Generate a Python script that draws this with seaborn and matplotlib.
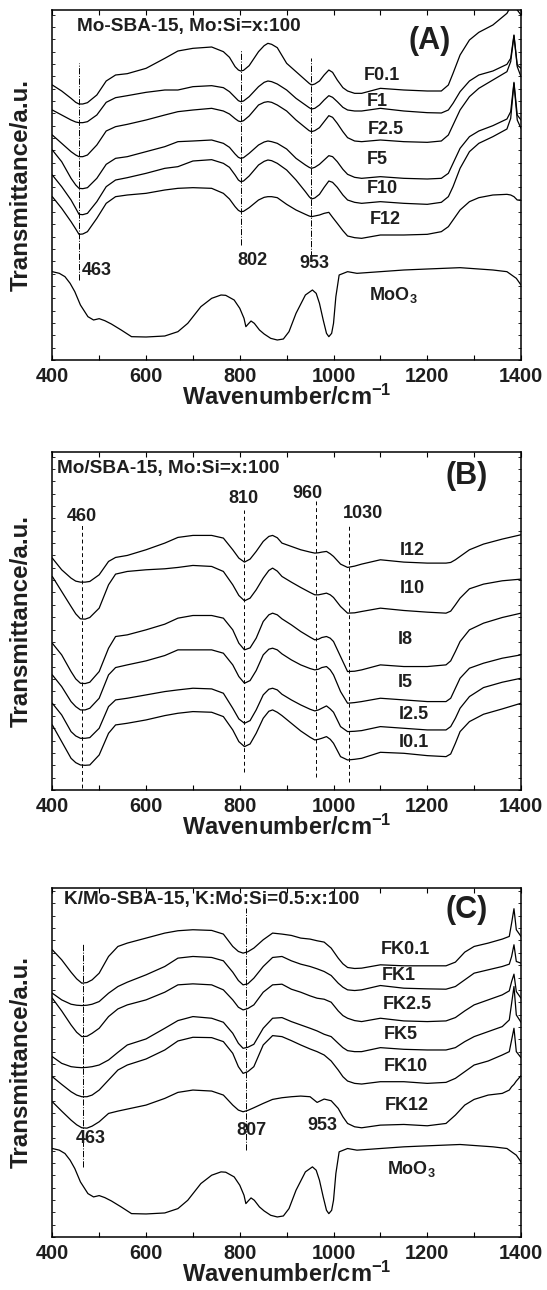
import matplotlib
matplotlib.use("Agg")
import matplotlib.pyplot as plt
from matplotlib.ticker import MultipleLocator
import seaborn as sns

# ---------------- data ----------------
# Panel A : Mo-SBA-15
WN_A = [400, 420, 440, 450, 457, 465, 475, 495, 515, 535,
        560, 600, 640, 668, 700, 740, 765, 778, 790, 797,
        802, 808, 820, 840, 852, 860, 868, 880, 900, 920,
        940, 948, 953, 960, 970, 980, 990, 998, 1008, 1020,
        1030, 1045, 1060, 1100, 1150, 1200, 1230, 1245, 1255, 1270,
        1290, 1310, 1340, 1370, 1378, 1385, 1392, 1400]
A_F01 = [82.5, 80.7, 78.5, 77.3, 76.8, 76.8, 77.2, 79.5, 83.7, 85.5,
         85.9, 87.5, 90.5, 92.7, 93.5, 93.9, 92.5, 90.8, 88.0, 87.0,
         86.7, 86.9, 88.3, 92.5, 94.3, 95.0, 94.7, 93.7, 89.0, 86.5,
         84.0, 83.0, 82.5, 82.8, 83.7, 85.5, 87.0, 86.3, 84.0, 81.7,
         80.7, 80.0, 80.0, 81.5, 81.0, 80.7, 80.7, 82.5, 86.0, 91.5,
         96.0, 98.3, 100.5, 104.0, 106.0, 111.5, 105.0, 103.5]
A_F1 = [75.0, 73.5, 72.0, 71.4, 71.2, 71.2, 71.5, 73.5, 77.3, 78.7,
        79.3, 80.3, 81.0, 81.0, 82.0, 82.3, 81.7, 80.5, 78.8, 77.8,
        77.5, 77.7, 79.0, 82.0, 83.3, 83.7, 83.5, 82.8, 81.0, 78.5,
        76.5, 75.7, 75.3, 75.5, 76.5, 78.0, 79.3, 78.8, 77.5, 75.8,
        75.0, 74.7, 74.7, 75.5, 74.7, 74.2, 74.1, 75.0, 77.0, 80.5,
        83.7, 85.5, 86.7, 88.7, 90.5, 97.5, 88.5, 87.5]
A_F25 = [67.5, 65.0, 62.5, 61.5, 61.0, 61.0, 61.5, 64.5, 68.7, 70.0,
         70.7, 72.0, 73.5, 74.5, 75.0, 75.5, 74.7, 73.8, 72.4, 71.7,
         71.5, 71.8, 73.2, 76.5, 77.3, 77.5, 77.3, 76.5, 74.7, 72.0,
         69.7, 68.8, 68.5, 68.8, 69.7, 71.5, 73.3, 72.8, 71.0, 68.5,
         66.7, 65.7, 65.5, 66.0, 65.5, 65.3, 65.7, 67.5, 70.5, 75.0,
         79.0, 81.5, 84.0, 86.5, 89.5, 97.3, 88.0, 85.0]
A_F5 = [63.0, 59.5, 54.5, 52.5, 51.5, 51.4, 51.7, 54.5, 58.7, 60.5,
        61.0, 62.5, 64.0, 65.5, 65.7, 66.0, 65.0, 63.8, 61.8, 60.8,
        60.5, 60.7, 62.0, 64.5, 65.4, 65.7, 65.5, 65.0, 63.3, 60.5,
        58.5, 57.8, 57.5, 57.8, 58.7, 60.0, 61.3, 61.0, 59.5, 57.2,
        55.7, 54.8, 54.5, 55.0, 54.5, 54.3, 54.5, 56.0, 59.0, 63.5,
        67.0, 68.7, 70.3, 72.3, 74.5, 83.3, 73.5, 72.0]
A_F10 = [55.5, 52.0, 48.0, 45.5, 43.7, 43.6, 44.0, 47.5, 52.0, 54.0,
         54.7, 56.0, 57.5, 58.0, 59.7, 60.1, 59.0, 57.8, 55.5, 54.0,
         53.5, 53.7, 55.2, 58.5, 59.6, 60.0, 59.8, 59.0, 57.0, 54.0,
         50.5, 49.0, 48.3, 48.6, 49.7, 51.8, 53.7, 53.3, 51.8, 49.5,
         48.0, 47.3, 47.0, 47.5, 47.0, 46.7, 47.3, 49.0, 52.0, 57.5,
         62.5, 65.0, 67.0, 69.3, 72.5, 83.0, 72.0, 69.5]
A_F12 = [49.0, 45.5, 41.5, 39.3, 37.7, 37.8, 38.5, 42.5, 47.0, 49.0,
         49.5, 50.0, 51.0, 51.5, 51.7, 51.5, 50.0, 48.3, 46.0, 44.9,
         44.5, 44.6, 45.7, 48.0, 48.8, 49.0, 49.0, 48.7, 46.7, 45.0,
         43.7, 43.2, 43.0, 43.2, 43.5, 44.0, 44.3, 42.8, 41.0, 38.8,
         37.2, 36.7, 36.5, 37.5, 37.5, 37.7, 38.5, 40.0, 42.0, 45.0,
         47.5, 48.7, 49.5, 49.7, 49.5, 49.0, 48.0, 48.0]

# MoO3 reference spectrum (panels A and C)
WN_MOO3 = [400, 415, 427, 438, 448, 460, 476, 488, 500, 512,
           526, 547, 569, 600, 640, 668, 689, 717, 740, 760,
           770, 788, 800, 809, 813, 818, 824, 831, 842, 852,
           866, 880, 893, 905, 920, 940, 955, 963, 970, 978,
           985, 990, 996, 1000, 1005, 1012, 1030, 1050, 1100, 1150,
           1200, 1270, 1340, 1370, 1390, 1400]
T_MOO3 = [26.5, 26.0, 25.0, 23.0, 20.5, 16.5, 13.0, 12.0, 12.4, 11.8,
          10.8, 9.0, 7.0, 6.9, 7.2, 8.5, 11.0, 16.0, 18.5, 19.5,
          19.4, 18.0, 15.5, 12.5, 10.0, 10.8, 11.7, 11.0, 9.0, 7.8,
          6.5, 6.0, 6.3, 8.5, 14.0, 19.5, 21.0, 20.0, 17.0, 12.0,
          8.0, 7.0, 8.0, 11.0, 19.0, 25.5, 26.5, 26.0, 26.5, 27.0,
          27.3, 27.7, 27.0, 26.5, 24.5, 22.5]

# Panel B : Mo/SBA-15
WN_B = [400, 420, 440, 450, 460, 470, 480, 500, 520, 535,
        560, 600, 640, 668, 700, 740, 765, 785, 798, 810,
        822, 835, 850, 862, 870, 880, 890, 910, 930, 950,
        960, 968, 975, 985, 993, 1000, 1015, 1030, 1045, 1060,
        1100, 1150, 1200, 1240, 1250, 1260, 1270, 1290, 1320, 1360,
        1400]
B_I12 = [69.5, 66.0, 63.5, 62.6, 62.3, 62.3, 62.5, 64.5, 68.5, 69.7,
         70.3, 72.0, 74.0, 75.7, 76.3, 76.3, 75.5, 72.0, 69.5, 68.3,
         69.2, 71.5, 74.5, 76.0, 76.3, 75.6, 74.0, 73.0, 72.0, 71.3,
         71.0, 71.1, 71.3, 71.5, 70.8, 70.0, 67.7, 66.7, 67.1, 67.7,
         69.0, 68.3, 68.0, 68.0, 68.2, 69.0, 70.0, 72.0, 73.7, 75.2,
         76.5]
B_I10 = [64.0, 59.5, 55.0, 52.8, 51.3, 51.2, 51.7, 54.5, 61.5, 64.7,
         65.5, 66.0, 66.3, 66.7, 67.3, 67.0, 65.5, 61.5, 58.3, 56.7,
         57.5, 60.0, 63.5, 65.8, 66.5, 65.6, 64.0, 62.3, 60.7, 59.2,
         58.5, 58.5, 58.7, 59.0, 58.5, 57.7, 55.0, 53.0, 53.1, 53.5,
         54.5, 53.8, 53.3, 53.0, 53.6, 55.5, 57.5, 60.3, 61.7, 62.7,
         63.2]
B_I8 = [44.0, 40.5, 35.5, 33.3, 32.0, 31.9, 32.3, 35.5, 42.5, 46.0,
        46.5, 48.0, 49.7, 51.5, 52.3, 52.3, 51.5, 48.0, 44.0, 42.0,
        42.6, 45.5, 50.5, 52.5, 53.0, 52.5, 51.3, 49.5, 47.5, 45.8,
        45.0, 45.2, 45.7, 46.0, 45.5, 44.5, 40.0, 35.5, 35.6, 36.0,
        37.5, 37.0, 37.0, 37.5, 38.7, 41.5, 44.5, 48.0, 50.0, 51.7,
        53.0]
B_I5 = [34.5, 31.0, 26.5, 25.0, 24.0, 24.0, 24.5, 27.5, 34.5, 36.7,
        37.5, 38.7, 40.3, 42.0, 42.0, 42.0, 41.0, 37.5, 34.0, 32.0,
        32.8, 35.8, 40.5, 42.2, 42.5, 42.0, 40.8, 39.0, 37.5, 36.4,
        36.0, 36.2, 36.7, 37.0, 36.0, 34.5, 29.5, 26.0, 26.2, 26.5,
        27.5, 27.0, 26.5, 26.5, 27.5, 30.5, 33.5, 36.5, 38.0, 39.5,
        40.5]
B_I25 = [26.0, 22.5, 17.5, 16.2, 15.5, 15.5, 15.7, 18.5, 25.0, 27.0,
         27.5, 28.5, 29.5, 30.0, 30.5, 30.3, 29.0, 24.5, 21.3, 20.0,
         20.8, 24.0, 28.5, 30.2, 30.5, 30.0, 28.7, 27.0, 25.5, 24.2,
         23.7, 24.0, 24.5, 25.2, 24.3, 23.3, 19.0, 17.5, 17.6, 17.8,
         19.0, 18.5, 18.0, 18.0, 19.0, 21.5, 24.5, 28.0, 30.7, 32.3,
         33.5]
B_I01 = [19.5, 14.5, 9.5, 8.2, 7.5, 7.4, 7.5, 10.5, 17.0, 19.5,
         20.0, 21.0, 22.3, 23.0, 23.5, 23.3, 22.0, 18.0, 14.5, 13.0,
         13.8, 17.0, 21.5, 23.6, 24.0, 23.3, 22.3, 20.0, 17.7, 15.8,
         15.0, 15.2, 15.5, 16.0, 15.2, 14.0, 10.0, 9.0, 9.2, 9.5,
         11.3, 11.0, 10.3, 10.0, 10.8, 14.0, 17.5, 20.5, 22.7, 24.3,
         26.0]

# Panel C : K/Mo-SBA-15
WN_C = [400, 420, 440, 452, 463, 474, 485, 500, 520, 540,
        560, 600, 640, 668, 700, 740, 765, 785, 797, 807,
        817, 830, 850, 870, 890, 910, 930, 950, 965, 980,
        995, 1010, 1020, 1030, 1045, 1060, 1100, 1150, 1200, 1240,
        1260, 1280, 1300, 1330, 1360, 1375, 1380, 1385, 1390, 1400]
C_FK01 = [86.0, 83.0, 79.3, 77.3, 76.0, 76.2, 77.0, 79.0, 84.0, 87.0,
          88.0, 89.5, 91.0, 91.7, 92.0, 91.8, 90.7, 87.0, 85.5, 85.0,
          85.4, 86.5, 89.0, 91.0, 90.7, 90.3, 89.5, 89.2, 88.7, 88.3,
          86.5, 83.5, 81.8, 80.7, 80.4, 80.5, 81.5, 81.2, 81.2, 81.2,
          82.3, 85.3, 87.0, 88.0, 89.2, 90.0, 94.0, 98.3, 92.0, 90.0]
C_FK1 = [73.0, 71.0, 69.7, 69.4, 69.3, 69.4, 69.7, 70.5, 73.0, 75.0,
         76.3, 78.5, 81.0, 83.5, 84.0, 83.7, 82.7, 79.3, 76.8, 75.5,
         75.8, 77.5, 81.0, 83.7, 84.0, 82.7, 81.7, 81.0, 80.3, 79.5,
         78.3, 76.0, 74.8, 74.0, 73.8, 74.0, 75.3, 74.5, 74.3, 74.2,
         75.0, 77.0, 79.0, 80.0, 81.0, 81.7, 84.0, 87.5, 82.5, 82.0]
C_FK25 = [71.5, 67.7, 63.5, 61.3, 60.0, 60.1, 61.0, 62.5, 66.0, 68.3,
          69.5, 71.0, 73.3, 75.5, 75.8, 75.5, 74.0, 71.0, 68.8, 68.0,
          68.4, 69.5, 73.3, 75.5, 75.7, 74.2, 73.3, 72.2, 71.5, 71.2,
          70.3, 67.7, 66.3, 65.5, 64.8, 64.5, 65.5, 64.7, 64.5, 64.7,
          65.7, 67.7, 69.5, 71.0, 72.5, 73.7, 76.5, 78.7, 73.5, 71.5]
C_FK5 = [54.0, 52.0, 51.0, 50.8, 50.7, 50.8, 51.0, 51.5, 53.0, 55.3,
         57.5, 59.3, 62.5, 64.8, 66.0, 65.5, 64.3, 61.0, 58.0, 56.5,
         56.8, 57.7, 62.5, 65.5, 65.7, 64.5, 63.5, 62.5, 61.7, 60.7,
         60.0, 58.0, 56.7, 55.8, 55.5, 55.5, 56.7, 56.2, 56.0, 56.0,
         56.7, 58.5, 60.0, 61.5, 63.0, 65.0, 70.0, 75.0, 66.5, 64.3]
C_FK10 = [48.0, 45.7, 43.5, 42.5, 42.0, 42.0, 42.5, 44.0, 47.0, 50.0,
          51.5, 53.3, 56.0, 58.7, 59.8, 59.7, 58.5, 55.0, 51.0, 49.0,
          49.5, 51.0, 57.5, 60.3, 60.0, 58.8, 57.5, 56.3, 55.5, 54.5,
          52.7, 50.0, 48.0, 46.7, 46.0, 45.8, 46.5, 46.5, 46.0, 46.3,
          47.5, 49.5, 51.5, 52.7, 54.5, 55.5, 59.0, 62.5, 55.5, 53.7]
C_FK12 = [40.5, 37.7, 35.0, 33.6, 32.7, 32.6, 33.2, 34.5, 37.0, 37.7,
          38.3, 39.5, 41.5, 43.3, 44.0, 43.7, 42.5, 39.5, 38.0, 37.5,
          37.9, 38.7, 40.0, 41.2, 41.7, 42.0, 42.2, 42.0, 40.3, 41.3,
          40.8, 38.5, 36.0, 34.0, 33.0, 32.7, 33.5, 33.7, 33.3, 34.0,
          36.5, 39.5, 41.2, 42.5, 43.0, 44.0, 45.0, 45.7, 46.7, 48.3]

# labels
A_NAMES = ["F0.1", "F1", "F2.5", "F5", "F10", "F12", "MoO$_\\mathbf{3}$"]
B_NAMES = ["I12", "I10", "I8", "I5", "I2.5", "I0.1"]
C_NAMES = ["FK0.1", "FK1", "FK2.5", "FK5", "FK10", "FK12", "MoO$_\\mathbf{3}$"]
HEADERS = ["Mo-SBA-15, Mo:Si=x:100", "Mo/SBA-15, Mo:Si=x:100", "K/Mo-SBA-15, K:Mo:Si=0.5:x:100"]
LETTERS = ["(A)", "(B)", "(C)"]
XTICKS = [400, 600, 800, 1000, 1200, 1400]

# reference (band) lines: position, lower end, upper end, label
A_REF = [457, 802, 953]
A_REF_LO = [24.0, 34.5, 31.0]
A_REF_HI = [89.0, 93.0, 90.5]
A_REF_LBL = ["463", "802", "953"]
B_REF = [464, 810, 962, 1032]
B_REF_LO = [0.5, 5.5, 4.0, 2.5]
B_REF_HI = [79.5, 84.0, 86.5, 79.0]
B_REF_LBL = ["460", "810", "960", "1030"]
C_REF = [466, 814]
C_REF_LO = [21.0, 26.0]
C_REF_HI = [87.7, 98.5]
C_REF_LBL = ["463", "807", "953"]

# ---------------- style ----------------
sns.set_theme(style="ticks")
plt.rcParams["font.family"] = ["Liberation Sans", "DejaVu Sans"]
plt.rcParams["font.weight"] = "bold"
plt.rcParams["mathtext.fontset"] = "custom"
plt.rcParams["mathtext.rm"] = "Liberation Sans:bold"
plt.rcParams["mathtext.bf"] = "Liberation Sans:bold"
plt.rcParams["mathtext.it"] = "Liberation Sans:bold"
plt.rcParams["mathtext.default"] = "bf"
TXT = "#1e1e1e"

fig = plt.figure(figsize=(5.47, 12.9), dpi=100)
W, H = 547.0, 1290.0
L, R = 52.3, 521.0


def make_ax(top, bottom):
    return fig.add_axes([L / W, 1 - bottom / H, (R - L) / W, (bottom - top) / H])


axA = make_ax(10, 360)
axB = make_ax(452, 790)
axC = make_ax(888, 1237)
ylims = [105.0, 101.3, 104.5]
heights = [350.0, 338.0, 349.0]


def style_ax(ax, ymax, hpx):
    ax.set_xlim(400, 1400)
    ax.set_ylim(0, ymax)
    ax.set_xticks(XTICKS)
    ax.set_xticklabels([str(t) for t in XTICKS])
    ax.xaxis.set_minor_locator(MultipleLocator(100))
    ax.yaxis.set_major_locator(MultipleLocator(3.7))
    ax.set_yticklabels([])
    ax.tick_params(axis="x", which="both", direction="in", top=True, bottom=True,
                   length=3.5, width=0.8, labelsize=14.3, pad=5, colors="black", labelcolor=TXT)
    ax.tick_params(axis="y", which="both", direction="in", left=True, right=True,
                   length=2.5, width=0.7, labelleft=False)
    for lab in ax.get_xticklabels():
        lab.set_fontweight("bold")
    for s in ax.spines.values():
        s.set_linewidth(1.1)
        s.set_color("black")
    ax.set_xlabel("Wavenumber/cm$^{-1}$", fontsize=17, fontweight="bold", color=TXT, va="center")
    ax.xaxis.set_label_coords(0.5, -37.0 / hpx)
    ax.set_ylabel("Transmittance/a.u.", fontsize=17.4, fontweight="bold", color=TXT, va="center")
    ax.yaxis.set_label_coords(-31.5 / (R - L), 0.5)


def curve(ax, x, y):
    sns.lineplot(x=x, y=y, ax=ax, color="black", linewidth=0.9, estimator=None, sort=False)


def lbl(ax, x, y, s, size=13, ha="center"):
    ax.text(x, y, s, fontsize=size, fontweight="bold", ha=ha, va="center", color=TXT)


# ---------------- panel A ----------------
for vals in [A_F01, A_F1, A_F25, A_F5, A_F10, A_F12]:
    curve(axA, WN_A, vals)
curve(axA, WN_MOO3, T_MOO3)
axA.vlines(A_REF, A_REF_LO, A_REF_HI, colors="black", linestyles="-.", linewidth=0.7)
for (x, y), s in zip([(1103, 85.5), (1093, 77.5), (1112, 69.0), (1094, 60.3), (1105, 51.5), (1110, 42.0), (1128, 19.5)], A_NAMES):
    lbl(axA, x, y, s)
lbl(axA, 462, 27.0, A_REF_LBL[0], ha="left")
lbl(axA, 827, 29.8, A_REF_LBL[1])
lbl(axA, 959, 29.0, A_REF_LBL[2])
lbl(axA, 452, 100.0, HEADERS[0], size=13.7, ha="left")
lbl(axA, 1206, 95.7, LETTERS[0], size=22)
style_ax(axA, ylims[0], heights[0])

# ---------------- panel B ----------------
for vals in [B_I12, B_I10, B_I8, B_I5, B_I25, B_I01]:
    curve(axB, WN_B, vals)
axB.vlines(B_REF, B_REF_LO, B_REF_HI, colors="black", linestyles=(0, (4, 3)), linewidth=0.7)
for (x, y), s in zip([(1168, 71.7), (1168, 60.5), (1154, 45.0), (1153, 32.3), (1172, 22.7), (1172, 14.2)], B_NAMES):
    lbl(axB, x, y, s)
for (x, y), s in zip([(462, 82.0), (808, 87.5), (944, 89.0), (1062, 83.0)], B_REF_LBL):
    lbl(axB, x, y, s)
lbl(axB, 411, 96.5, HEADERS[1], size=13.7, ha="left")
lbl(axB, 1284, 94.0, LETTERS[1], size=22)
style_ax(axB, ylims[1], heights[1])

# ---------------- panel C ----------------
for vals in [C_FK01, C_FK1, C_FK25, C_FK5, C_FK10, C_FK12]:
    curve(axC, WN_C, vals)
curve(axC, WN_MOO3, T_MOO3)
axC.vlines(C_REF, C_REF_LO, C_REF_HI, colors="black", linestyles="-.", linewidth=0.7)
for (x, y), s in zip([(1153, 86.0), (1139, 78.3), (1158, 69.5), (1144, 60.7), (1154, 51.0), (1156, 39.3), (1167, 20.5)], C_NAMES):
    lbl(axC, x, y, s)
for (x, y), s in zip([(482, 29.5), (825, 32.0), (976, 33.5)], C_REF_LBL):
    lbl(axC, x, y, s)
lbl(axC, 426, 101.0, HEADERS[2], size=13.7, ha="left")
lbl(axC, 1284, 98.0, LETTERS[2], size=22)
style_ax(axC, ylims[2], heights[2])

fig.savefig("out.png", dpi=100)
